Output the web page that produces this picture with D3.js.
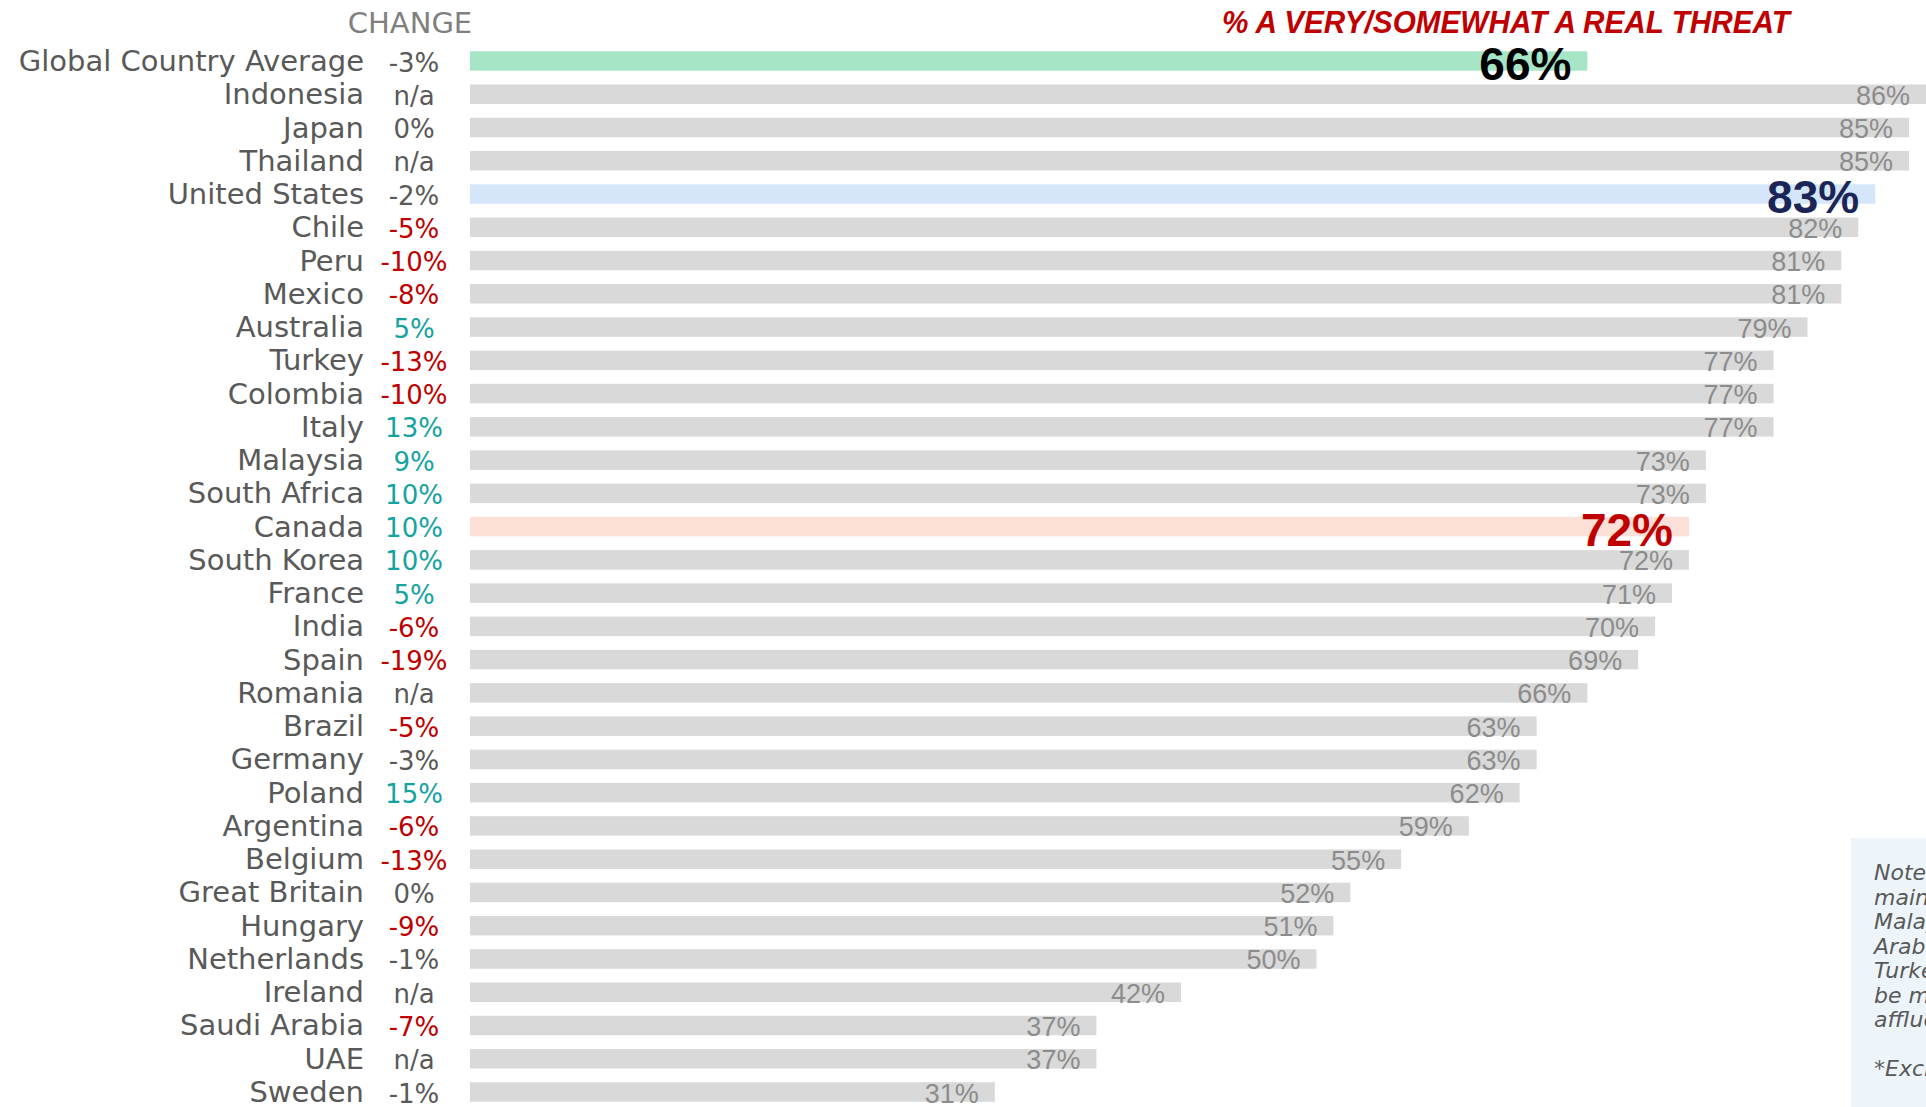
<!DOCTYPE html>
<html>
<head>
<meta charset="utf-8">
<script src="https://cdn.jsdelivr.net/npm/d3@7"></script>
<style>
  body { margin: 0; background: #fff; overflow: hidden; }
  svg { display: block; }
</style>
</head>
<body>
<svg width="1926" height="1107"></svg>
<script>
const width = 1926;
const height = 1107;

const countries = ["Global Country Average", "Indonesia", "Japan", "Thailand", "United States", "Chile", "Peru", "Mexico",
  "Australia", "Turkey", "Colombia", "Italy", "Malaysia", "South Africa", "Canada", "South Korea", "France", "India",
  "Spain", "Romania", "Brazil", "Germany", "Poland", "Argentina", "Belgium", "Great Britain", "Hungary", "Netherlands",
  "Ireland", "Saudi Arabia", "UAE", "Sweden"];
const values = [66, 86, 85, 85, 83, 82, 81, 81, 79, 77, 77, 77, 73, 73, 72, 72, 71, 70, 69, 66, 63, 63, 62, 59, 55, 52,
  51, 50, 42, 37, 37, 31];
const changes = ["-3%", "n/a", "0%", "n/a", "-2%", "-5%", "-10%", "-8%", "5%", "-13%", "-10%", "13%", "9%", "10%", "10%",
  "10%", "5%", "-6%", "-19%", "n/a", "-5%", "-3%", "15%", "-6%", "-13%", "0%", "-9%", "-1%", "n/a", "-7%", "n/a", "-1%"];
const highlights = ["Global Country Average", "United States", "Canada"];

const noteLines = ["Note: Online samples in Brazil, Chile,", "mainland China, Colombia, India,",
  "Malaysia, Mexico, Peru, Saudi", "Arabia, South Africa, Thailand,", "Turkey and UAE tend to",
  "be more urban, educated and/or", "affluent than the general population.", "", "*Excluding mainland China"];

const data = countries.map((c, i) => ({ country: c, value: values[i], change: changes[i] }));

const svg = d3.select('svg');

const x = d3.scaleLinear().domain([0, 100]).range([470, 470 + 1693]);
const y = d3.scalePoint().domain(countries).range([61, 1092]);
const barH = 19.5;

const barColor = d => d.country === "Global Country Average" ? "#a6e6c6"
  : d.country === "United States" ? "#d5e6fb"
  : d.country === "Canada" ? "#fde0d8" : "#d9d9d9";
const bigColor = d => d.country === "Global Country Average" ? "#000"
  : d.country === "United States" ? "#1b2657" : "#c00000";
const changeColor = s => {
  const v = parseFloat(s);
  if (isNaN(v)) return "#595959";
  if (v <= -5) return "#c00000";
  if (v >= 5) return "#14a3a0";
  return "#595959";
};

// note box (sits behind everything)
const note = svg.append("g");
note.append("rect")
  .attr("x", 1851).attr("y", 838)
  .attr("width", 200).attr("height", 300)
  .attr("fill", "#edf5fb");
note.selectAll("text")
  .data(noteLines)
  .enter()
  .append("text")
  .attr("x", 1874)
  .attr("y", (d, i) => 880 + i * 24.5)
  .attr("font-family", "DejaVu Sans, sans-serif")
  .attr("font-style", "italic")
  .attr("font-size", 22)
  .attr("fill", "#595959")
  .text(d => d);

// headers
svg.append("text")
  .attr("x", 410).attr("y", 33)
  .attr("text-anchor", "middle")
  .attr("font-family", "DejaVu Sans, sans-serif")
  .attr("font-size", 29)
  .attr("fill", "#7f7f7f")
  .text("CHANGE");

svg.append("text")
  .attr("x", 1222).attr("y", 33)
  .attr("font-family", "Liberation Sans Narrow, Liberation Sans, sans-serif")
  .attr("font-weight", "bold")
  .attr("font-style", "italic")
  .attr("font-size", 31)
  .attr("textLength", 568)
  .attr("lengthAdjust", "spacingAndGlyphs")
  .attr("fill", "#c00000")
  .text("% A VERY/SOMEWHAT A REAL THREAT");

const rows = svg.selectAll("g.row")
  .data(data)
  .enter()
  .append("g")
  .attr("class", "row");

rows.append("rect")
  .attr("x", x(0))
  .attr("y", d => y(d.country) - barH / 2)
  .attr("width", d => x(d.value) - x(0))
  .attr("height", barH)
  .attr("fill", barColor);

rows.append("text")
  .attr("x", 364)
  .attr("y", d => y(d.country) + 10)
  .attr("text-anchor", "end")
  .attr("font-family", "DejaVu Sans, sans-serif")
  .attr("font-size", 29)
  .attr("fill", "#595959")
  .text(d => d.country);

rows.append("text")
  .attr("x", 414)
  .attr("y", d => y(d.country) + 10.5)
  .attr("text-anchor", "middle")
  .attr("font-family", "DejaVu Sans, sans-serif")
  .attr("font-size", 26)
  .attr("fill", d => changeColor(d.change))
  .text(d => d.change);

rows.filter(d => !highlights.includes(d.country))
  .append("text")
  .attr("x", d => x(d.value) - 16)
  .attr("y", d => y(d.country) + 10.5)
  .attr("text-anchor", "end")
  .attr("font-family", "Liberation Sans Narrow, Liberation Sans, sans-serif")
  .attr("font-size", 27)
  .attr("fill", "#8c8c8c")
  .text(d => d.value + "%");

rows.filter(d => highlights.includes(d.country))
  .append("text")
  .attr("x", d => x(d.value) - 16)
  .attr("y", d => y(d.country) + 19)
  .attr("text-anchor", "end")
  .attr("font-family", "Liberation Sans, sans-serif")
  .attr("font-weight", "bold")
  .attr("font-size", 46)
  .attr("fill", bigColor)
  .text(d => d.value + "%");
</script>
</body>
</html>
